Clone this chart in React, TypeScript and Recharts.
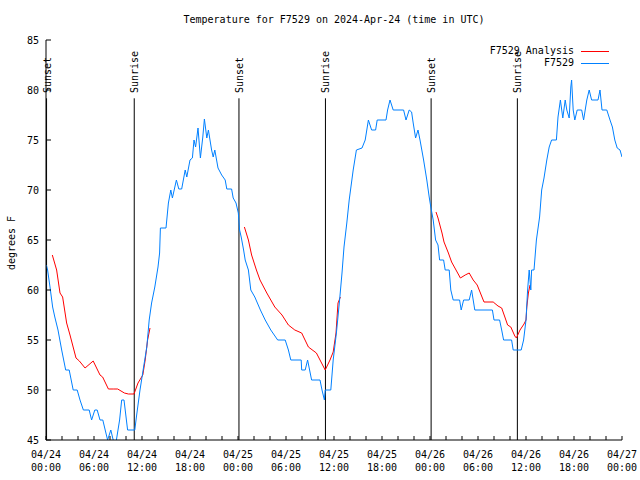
import React from 'react';
import { LineChart, Line, XAxis, YAxis, ReferenceLine } from 'recharts';

const FONT = '"DejaVu Sans Mono", "Liberation Mono", monospace';

// observed temperature (hours since 04/24 00:00 UTC)
const blueHours = [
  0.05, 0.2, 0.5, 0.83, 1.1, 1.5, 1.96, 2.46, 2.9, 3.4, 3.9, 4.25, 4.67, 5.4, 5.7, 6.1, 6.4, 6.75, 7.1, 7.4,
  7.7, 8.1, 8.4, 8.6, 8.8, 9.2, 9.46, 9.75, 10.2, 11.1, 11.3, 11.75, 12.2, 12.6, 12.9, 13.2, 13.6, 14.0, 14.2, 14.3,
  15.0, 15.3, 15.6, 15.8, 16.3, 16.6, 16.96, 17.4, 17.6, 18.0, 18.3, 18.5, 18.7, 19.0, 19.3, 19.6, 19.8, 20.1, 20.3, 20.7,
  20.9, 21.1, 21.5, 21.96, 22.4, 22.6, 23.2, 23.4, 23.75, 24.04, 24.2, 24.4, 24.7, 24.9, 25.3, 25.6, 26.1, 26.8, 27.4, 28.1,
  28.96, 29.9, 30.3, 30.6, 31.9, 31.96, 32.4, 32.7, 33.2, 34.25, 34.5, 34.8, 34.9, 35.6, 35.9, 36.3, 36.7, 37.0, 37.25, 37.6,
  37.9, 38.4, 38.8, 39.5, 39.9, 40.3, 40.7, 41.2, 41.4, 42.5, 42.7, 43.0, 43.4, 44.7, 45.0, 45.4, 45.7, 45.9, 46.2, 46.5,
  46.75, 47.2, 47.6, 47.9, 48.1, 48.4, 48.7, 49.0, 49.2, 49.7, 49.9, 50.4, 50.6, 50.9, 51.7, 51.9, 52.2, 52.9, 53.2, 53.6,
  55.8, 56.0, 56.7, 56.96, 57.2, 58.2, 58.4, 59.4, 59.7, 60.0, 60.2, 60.4, 60.6, 60.7, 61.0, 61.3, 61.7, 61.96, 62.25, 62.6,
  62.9, 63.2, 63.8, 64.0, 64.3, 64.6, 64.9, 65.1, 65.4, 65.6, 65.7, 65.9, 66.1, 66.4, 66.96, 67.2, 67.6, 67.9, 68.2, 69.0,
  69.25, 69.5, 70.1, 70.5, 70.8, 71.1, 71.4, 71.75, 72,
];
const blueTemps = [
  62.5, 62, 60.3, 58.3, 57.3, 56, 54, 52, 52, 50, 50, 49, 48, 48, 47, 48, 48, 47, 47, 46,
  45, 46, 45, 44.5, 45, 47, 49, 49, 46, 46, 47.3, 50, 52.3, 54.3, 57, 58.7, 60.3, 62.3, 63.7, 66.2,
  66.2, 68.7, 70, 69.2, 71, 70.1, 70.1, 72, 71.3, 73, 73.2, 75, 74.3, 76.2, 73.2, 75.3, 77.1, 75.2, 76, 74,
  73.3, 74, 72.2, 71.5, 71, 70.1, 70.1, 69.2, 68.7, 67.7, 66, 65.3, 64, 63, 62, 60, 59.3, 58, 57, 56,
  55, 55, 54, 53, 53, 52, 52, 53, 51, 51, 50, 49, 50, 50, 53, 55.7, 59, 61.7, 64.3, 66.7,
  69, 72, 74, 74.2, 75, 77, 76, 76, 77, 77, 78, 79, 78, 78, 77, 78, 77.8, 76.7, 75.2, 76,
  75, 73, 71, 69.3, 68.3, 67, 65, 64.5, 63, 63, 62, 62, 60, 59, 59, 58, 59, 59, 60, 58,
  58, 57, 57, 56, 55, 55, 54, 54, 55, 57, 60, 62, 60, 62, 62, 65, 67.3, 70, 71.2, 73,
  74.3, 75, 75, 77.3, 79, 77.2, 79, 78, 77.2, 80.3, 81, 78, 77, 78, 78, 77, 79, 80, 79, 79,
  80, 78, 78, 77, 76.3, 75, 74.2, 74, 73.3,
];

// analysis (overnight only, null = gap)
const redHours = [
  0.79, 1.33, 1.75, 2.08, 2.58, 3.0, 3.75, 4.17, 4.88, 5.9, 6.75, 7.08, 7.8, 8.4, 8.96, 9.8, 10.3, 11.0, 11.5, 12.1,
  12.4, 12.7, 13.0, 13.1,
  24.8, 25.3, 25.7, 26.3, 26.75, 27.6, 28.6, 29.5, 30.3, 31.1, 31.96, 32.8, 33.8, 34.9, 35.5, 35.9, 36.25, 36.5, 36.8, 36.9,
  48.75, 49.0, 49.5, 49.75, 50.3, 50.7, 51.25, 51.8, 52.4, 52.9, 53.4, 53.9, 54.25, 54.75, 55.9, 56.5, 56.96, 57.4, 57.7, 58.1,
  58.6, 58.8, 59.25, 59.75, 60.0, 60.1, 60.3, 60.5,
];
const redTemps = [
  63.5, 62, 59.7, 59.3, 56.7, 55.5, 53.2, 52.9, 52.2, 52.9, 51.5, 51.3, 50.1, 50.1, 50.1, 49.7, 49.6, 49.6, 50.7, 51.5,
  53, 55, 56.2, null,
  66.3, 65, 63.5, 62, 61, 59.7, 58.3, 57.5, 56.5, 56, 55.7, 54.3, 53.7, 52, 53, 53.8, 55.7, 58.7, 59.3, null,
  67.8, 67.2, 65.7, 64.8, 63.7, 62.8, 62, 61.2, 61.5, 61.7, 61, 60.5, 59.8, 58.8, 58.8, 58.4, 58.2, 57.2, 56.5, 56.3,
  55.4, 55.2, 56, 56.6, 57, 58.3, 59.7, 60.5,
];

const sunHours = [0.07, 11.03, 24.12, 34.93, 48.14, 58.92];
const sunLabels = ['Sunset', 'Sunrise', 'Sunset', 'Sunrise', 'Sunset', 'Sunrise'];

const xTicks = [0, 2, 4, 6, 8, 10, 12, 14, 16, 18, 20, 22, 24, 26, 28, 30, 32, 34, 36, 38, 40, 42, 44, 46, 48, 50, 52, 54, 56, 58, 60, 62, 64, 66, 68, 70, 72];
const dayLabels = ['04/24', '04/25', '04/26', '04/27'];
const timeLabels = ['00:00', '06:00', '12:00', '18:00'];
const yTicks = [45, 50, 55, 60, 65, 70, 75, 80, 85];

const seriesNames = ['F7529 Analysis', 'F7529'];
const seriesColors = ['#ff0000', '#0080ff'];

const blueData = blueHours.map((h, i) => ({ h, v: blueTemps[i] }));
const redData = redHours.map((h, i) => ({ h, v: redTemps[i] }));

const BottomTick = (props: any) => {
  const { x, y, payload } = props;
  const h = payload.value;
  const major = h % 6 === 0;
  return (
    <g>
      <line x1={x} y1={y} x2={x} y2={y - 4} stroke="#000" />
      {major && (
        <text x={x} y={y + 18} textAnchor="middle" fontSize={10} fontFamily={FONT} fill="#000">
          <tspan x={x}>{dayLabels[Math.floor(h / 24)]}</tspan>
          <tspan x={x} dy={13}>{timeLabels[(h % 24) / 6]}</tspan>
        </text>
      )}
    </g>
  );
};

const TopTick = (props: any) => {
  const { x, y } = props;
  return <line x1={x} y1={y} x2={x} y2={y + 4} stroke="#000" />;
};

const LeftTick = (props: any) => {
  const { x, y, payload } = props;
  return (
    <g>
      <line x1={x} y1={y} x2={x + 5} y2={y} stroke="#000" />
      <text x={x - 7} y={y + 4} textAnchor="end" fontSize={10} fontFamily={FONT} fill="#000">
        {payload.value}
      </text>
    </g>
  );
};

const RightTick = (props: any) => {
  const { x, y } = props;
  return <line x1={x} y1={y} x2={x - 5} y2={y} stroke="#000" />;
};

const sunShape = (label: string) => (props: any) => {
  const { x1, y1, x2, y2 } = props;
  const tx = x1 + 4;
  const ty = 93;
  return (
    <g>
      <line x1={x1} y1={y1} x2={x2} y2={y2} stroke="#000" strokeWidth={1} />
      <text x={tx} y={ty} transform={`rotate(-90 ${tx} ${ty})`} fontSize={10} fontFamily={FONT} fill="#000">
        {label}
      </text>
    </g>
  );
};

export default function App() {
  return (
    <div style={{ position: 'absolute', left: 0, top: 0, width: 640, height: 480, background: '#fff', fontFamily: FONT }}>
      <div style={{ position: 'absolute', left: 46, top: 14, width: 576, textAlign: 'center', fontSize: 10, lineHeight: '12px' }}>
        Temperature for F7529 on 2024-Apr-24 (time in UTC)
      </div>
      <div
        style={{
          position: 'absolute', left: 11, top: 243, fontSize: 10, whiteSpace: 'nowrap',
          transform: 'translate(-50%, -50%) rotate(-90deg)',
        }}
      >
        degrees F
      </div>
      <LineChart width={640} height={480} margin={{ top: 40, right: 18, bottom: 0, left: 0 }}>
        <XAxis
          type="number" dataKey="h" domain={[0, 72]} ticks={xTicks} interval={0} allowDataOverflow
          height={40} tickLine={false} tickSize={0} tickMargin={0} axisLine={{ stroke: '#000' }} tick={<BottomTick />}
        />
        <XAxis
          xAxisId="t" orientation="top" type="number" dataKey="h" domain={[0, 72]} ticks={xTicks} interval={0}
          allowDataOverflow height={0} tickLine={false} tickSize={0} tickMargin={0} axisLine={{ stroke: '#000' }} tick={<TopTick />}
        />
        <YAxis
          type="number" domain={[45, 85]} ticks={yTicks} interval={0} allowDataOverflow width={46}
          tickLine={false} tickSize={0} tickMargin={0} axisLine={{ stroke: '#000' }} tick={<LeftTick />}
        />
        <YAxis
          yAxisId="r" orientation="right" type="number" domain={[45, 85]} ticks={yTicks} interval={0} allowDataOverflow
          width={0} tickLine={false} tickSize={0} tickMargin={0} axisLine={{ stroke: '#000' }} tick={<RightTick />}
        />
        {sunHours.map((h, i) => (
          <ReferenceLine
            key={i}
            segment={[{ x: h, y: 79.17 }, { x: h, y: 45 }]}
            stroke="#000"
            shape={sunShape(sunLabels[i])}
          />
        ))}
        <Line
          data={redData} dataKey="v" name={seriesNames[0]} type="linear" stroke={seriesColors[0]} strokeWidth={1}
          dot={false} activeDot={false} isAnimationActive={false}
        />
        <Line
          data={blueData} dataKey="v" name={seriesNames[1]} type="linear" stroke={seriesColors[1]} strokeWidth={1}
          dot={false} activeDot={false} isAnimationActive={false}
        />
      </LineChart>
      <div style={{ position: 'absolute', left: 480, top: 45, width: 140, fontSize: 10, color: '#000' }}>
        {seriesNames.map((name, i) => (
          <div key={name} style={{ position: 'relative', height: 12, lineHeight: '12px' }}>
            <span style={{ position: 'absolute', right: 46, top: 0, whiteSpace: 'nowrap' }}>{name}</span>
            <div style={{ position: 'absolute', left: 101, top: 6, width: 28, height: 0, borderTop: `1px solid ${seriesColors[i]}` }} />
          </div>
        ))}
      </div>
    </div>
  );
}
